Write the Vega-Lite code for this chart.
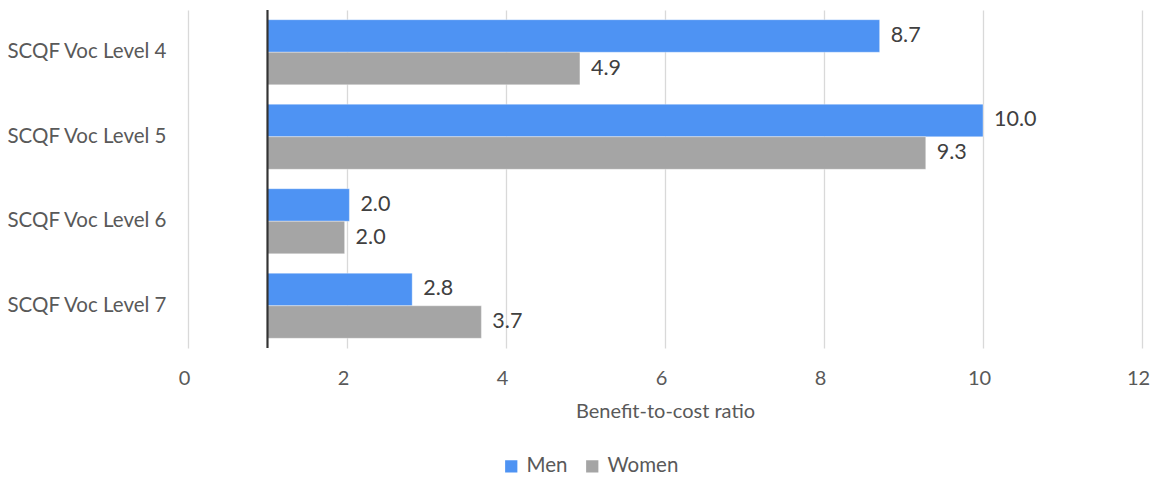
{
  "$schema": "https://vega.github.io/schema/vega-lite/v6.json",
  "width": 954,
  "height": 338,
  "autosize": "none",
  "padding": {"left": 188, "top": 10, "right": 11, "bottom": 129},
  "background": "white",
  "config": {
    "view": {"stroke": null},
    "font": "Lato",
    "text": {"font": "Lato"}
  },
  "data": {
    "values": [
      {"level": "SCQF Voc Level 4", "sex": "Men", "ratio": 8.7},
      {"level": "SCQF Voc Level 4", "sex": "Women", "ratio": 4.93},
      {"level": "SCQF Voc Level 5", "sex": "Men", "ratio": 10.0},
      {"level": "SCQF Voc Level 5", "sex": "Women", "ratio": 9.28},
      {"level": "SCQF Voc Level 6", "sex": "Men", "ratio": 2.03},
      {"level": "SCQF Voc Level 6", "sex": "Women", "ratio": 1.97},
      {"level": "SCQF Voc Level 7", "sex": "Men", "ratio": 2.82},
      {"level": "SCQF Voc Level 7", "sex": "Women", "ratio": 3.69}
    ]
  },
  "encoding": {
    "y": {
      "field": "level",
      "type": "nominal",
      "sort": null,
      "scale": {"paddingInner": 0.23, "paddingOuter": 0.115},
      "axis": {
        "title": null,
        "domain": false,
        "ticks": false,
        "labelFont": "Lato",
        "labelFontSize": 20.5,
        "labelColor": "#595959",
        "labelPadding": 22
      }
    },
    "yOffset": {"field": "sex", "type": "nominal", "sort": ["Men", "Women"]}
  },
  "layer": [
    {
      "mark": {"type": "bar", "stroke": "white", "strokeWidth": 0.6, "strokeOpacity": 0.6},
      "encoding": {
        "x": {
          "field": "ratio",
          "type": "quantitative",
          "scale": {"domain": [0, 12], "nice": false, "zero": false},
          "axis": {
            "values": [0, 2, 4, 6, 8, 10, 12],
            "format": "d",
            "labelFlush": false,
            "labelOffset": -4,
            "title": "Benefit-to-cost ratio",
            "titleFont": "Lato",
            "titleFontSize": 20,
            "titleFontWeight": "normal",
            "titleColor": "#595959",
            "titlePadding": 13,
            "labelFont": "Lato",
            "labelFontSize": 20,
            "labelColor": "#595959",
            "labelPadding": 20,
            "domain": false,
            "ticks": false,
            "grid": true,
            "gridColor": "#d9d9d9",
            "gridWidth": 1.3
          }
        },
        "x2": {"datum": 1},
        "color": {
          "field": "sex",
          "type": "nominal",
          "sort": ["Men", "Women"],
          "scale": {"domain": ["Men", "Women"], "range": ["#4e93f3", "#a5a5a5"]},
          "legend": {
            "title": null,
            "orient": "none",
            "direction": "horizontal",
            "legendX": 313,
            "legendY": 446,
            "symbolType": "square",
            "symbolSize": 150,
            "symbolStrokeWidth": 0,
            "symbolOpacity": 1,
            "labelFont": "Lato",
            "labelFontSize": 20.5,
            "labelColor": "#595959",
            "columnPadding": 14,
            "labelOffset": 5
          }
        }
      }
    },
    {
      "mark": {"type": "text", "align": "left", "baseline": "middle", "dx": 11, "fontSize": 21.5, "color": "#404040", "font": "Lato"},
      "encoding": {
        "x": {"field": "ratio", "type": "quantitative"},
        "text": {"field": "ratio", "type": "quantitative", "format": ".1f"}
      }
    },
    {
      "mark": {"type": "rule", "color": "#333333", "strokeWidth": 1.2},
      "encoding": {
        "x": {"datum": 1},
        "y": {"value": 0},
        "y2": {"value": 338},
        "yOffset": null
      }
    }
  ]
}
